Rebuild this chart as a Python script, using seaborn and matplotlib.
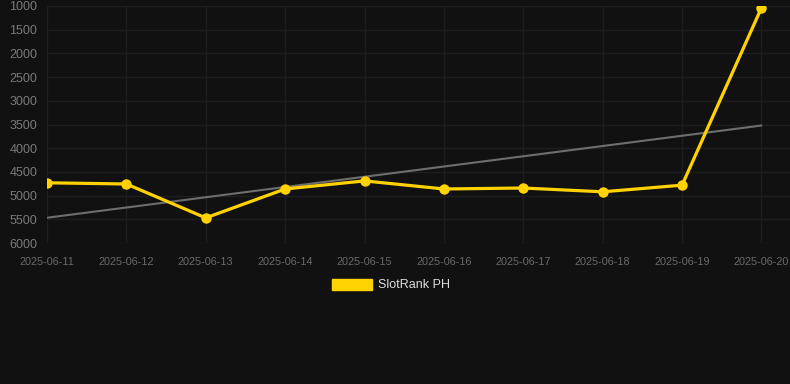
import numpy as np
import pandas as pd
import matplotlib
matplotlib.use("Agg")
import matplotlib.pyplot as plt
from matplotlib.patches import Patch
import seaborn as sns

# data
dates = ["2025-06-11", "2025-06-12", "2025-06-13", "2025-06-14", "2025-06-15",
         "2025-06-16", "2025-06-17", "2025-06-18", "2025-06-19", "2025-06-20"]
rank = [4730, 4755, 5470, 4860, 4690, 4860, 4840, 4920, 4780, 1040]
y_ticks = [1000, 1500, 2000, 2500, 3000, 3500, 4000, 4500, 5000, 5500, 6000]
series_name = "SlotRank PH"

BG = "#111111"
GRID = "#1e1e1e"
YELLOW = "#FFD200"
TREND = "#6e6e6e"

df = pd.DataFrame({"day": np.arange(len(dates)), "rank": rank})

sns.set_theme(style="dark", rc={
    "figure.facecolor": BG,
    "axes.facecolor": BG,
    "axes.edgecolor": BG,
    "grid.color": GRID,
})
plt.rcParams["font.family"] = ["Liberation Sans", "DejaVu Sans"]

fig = plt.figure(figsize=(7.9, 3.84), dpi=100)
ax = fig.add_axes([47 / 790, 141 / 384, 1 - 47 / 790, 237 / 384])

# trend line (least squares fit of the series)
sns.regplot(data=df, x="day", y="rank", scatter=False, ci=None, ax=ax,
            line_kws={"color": TREND, "linewidth": 1.5}, truncate=True)

sns.lineplot(data=df, x="day", y="rank", ax=ax, color=YELLOW, linewidth=2.3,
             marker="o", markersize=7.5, markeredgewidth=0, zorder=5)

ax.set_xlim(0, 9.36)
ax.set_ylim(6000, 1000)
ax.set_yticks(y_ticks)
ax.set_xticks(df["day"])
ax.set_xticklabels(dates)
ax.grid(True, color=GRID, linewidth=1)
ax.tick_params(axis="y", colors="#7a7a7a", labelsize=9, length=0, pad=7)
ax.tick_params(axis="x", colors="#6a6a6a", labelsize=7.8, length=0, pad=10)
ax.set_xlabel("")
ax.set_ylabel("")
for s in ax.spines.values():
    s.set_visible(False)

handle = Patch(facecolor=YELLOW, edgecolor=YELLOW)
fig.legend([handle], [series_name], loc="center", bbox_to_anchor=(391 / 790, 1 - 285 / 384),
           frameon=False, fontsize=9, labelcolor="#dddddd",
           handlelength=3.2, handleheight=1.0, handletextpad=0.5)

fig.savefig("out.png", dpi=100, facecolor=BG)
